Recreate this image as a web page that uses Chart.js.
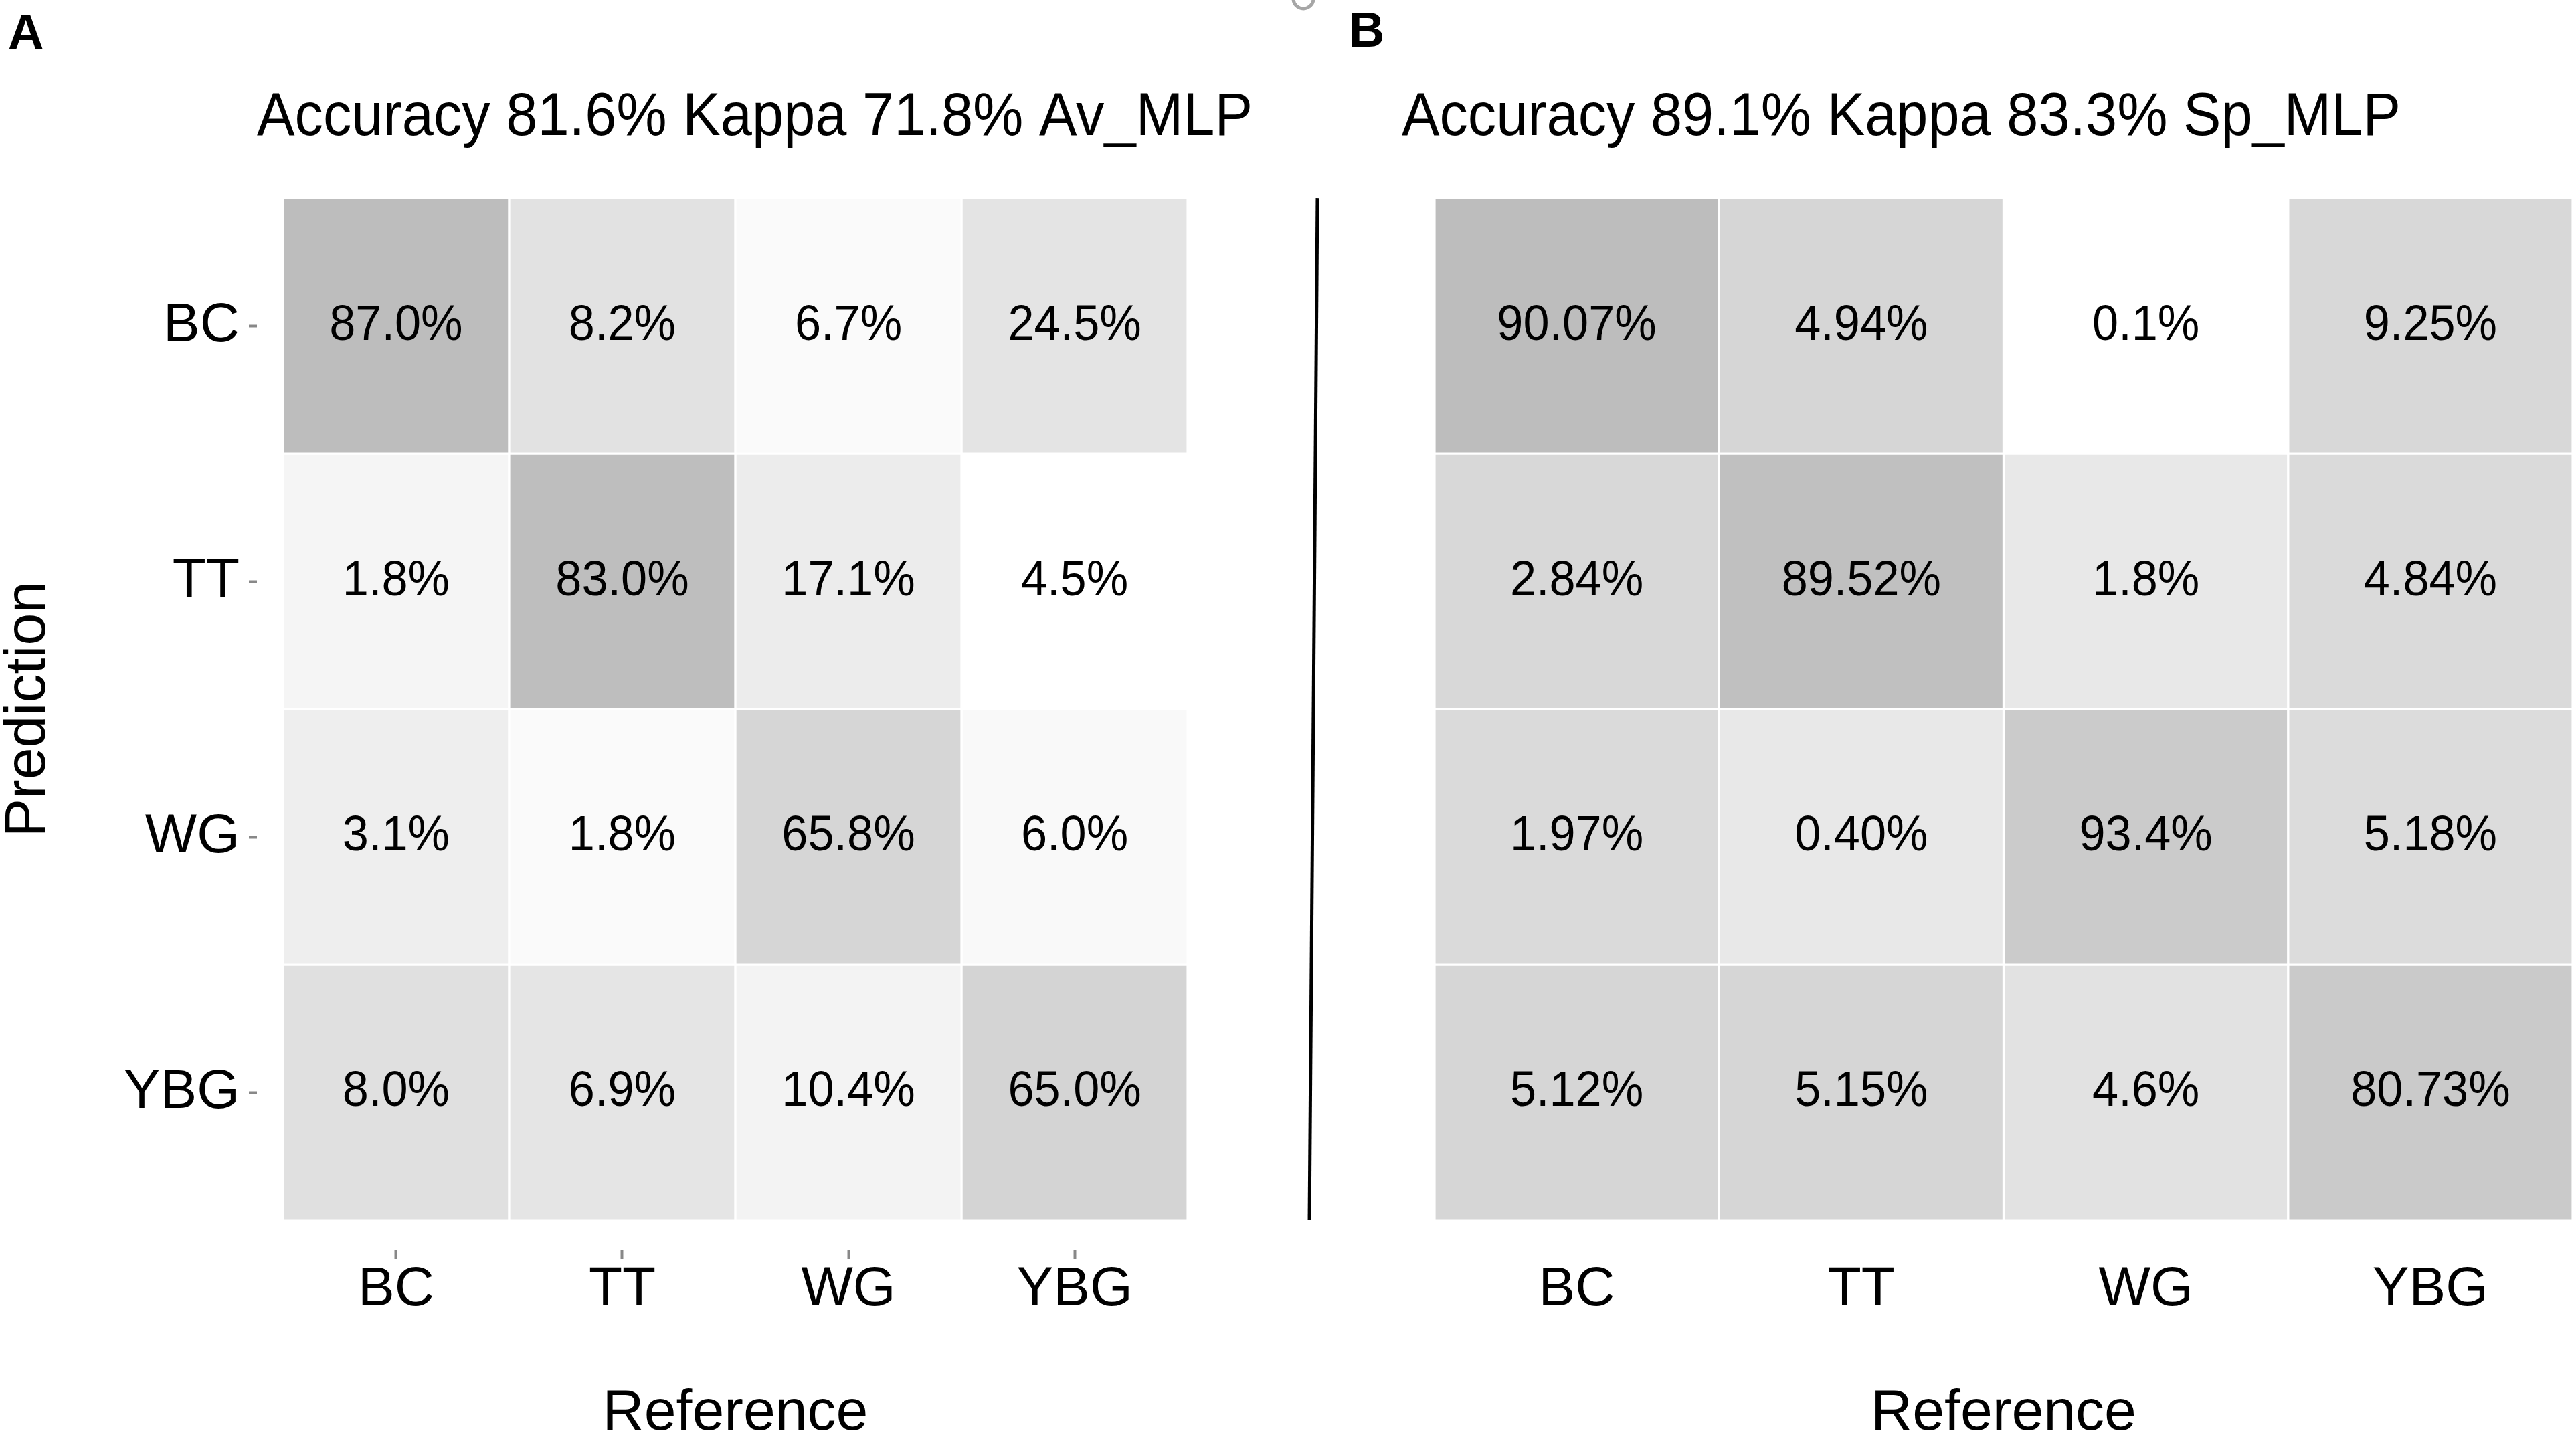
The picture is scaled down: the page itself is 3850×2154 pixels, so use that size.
<!DOCTYPE html>
<html>
<head>
<meta charset="utf-8">
<script src="https://cdn.jsdelivr.net/npm/chart.js@4.4.1/dist/chart.umd.min.js"></script>
<style>
html, body { margin: 0; padding: 0; background: #fff; overflow: hidden; }
#page { position: relative; width: 3850px; height: 2154px; overflow: hidden; background: #fff; }
canvas { position: absolute; top: 0; }
.tag { position: absolute; font-family: 'Liberation Sans', Arial, sans-serif; font-weight: bold; font-size: 74px; line-height: 1; color: #000; }
</style>
</head>
<body>
<div id="page">
  <canvas id="chartA" width="1900" height="2154" style="left:0px;width:1900px;height:2154px"></canvas>
  <canvas id="chartB" width="1994" height="2154" style="left:1900px;width:1994px;height:2154px"></canvas>
  <div class="tag" style="left:12px;top:11px">A</div>
  <div class="tag" style="left:2016px;top:8px">B</div>
</div>
<script>
// ---- data ----
const references = ['BC', 'TT', 'WG', 'YBG'];   // x categories (Reference)
const predictions = ['BC', 'TT', 'WG', 'YBG'];  // y categories (Prediction)

// rows = prediction, columns = reference
const avMlpPercent = [
  [87.0, 8.2, 6.7, 24.5],
  [1.8, 83.0, 17.1, 4.5],
  [3.1, 1.8, 65.8, 6.0],
  [8.0, 6.9, 10.4, 65.0]
];
const avMlpDecimals = [1, 1, 1, 1];

const spMlpPercent = [
  [90.07, 4.94, 0.1, 9.25],
  [2.84, 89.52, 1.8, 4.84],
  [1.97, 0.40, 93.4, 5.18],
  [5.12, 5.15, 4.6, 80.73]
];
const spMlpDecimals = [2, 2, 1, 2];

const avMlpTitle = 'Accuracy 81.6% Kappa 71.8% Av_MLP';
const spMlpTitle = 'Accuracy 89.1% Kappa 83.3% Sp_MLP';
const xAxisTitle = 'Reference';
const yAxisTitle = 'Prediction';

// tile fill shades
const avMlpShade = [
  ['#bdbdbd', '#e2e2e2', '#fafafa', '#e4e4e4'],
  ['#f5f5f5', '#bebebe', '#ececec', '#ffffff'],
  ['#eeeeee', '#fafafa', '#d6d6d6', '#f9f9f9'],
  ['#e0e0e0', '#e5e5e5', '#f3f3f3', '#d4d4d4']
];
const spMlpShade = [
  ['#bdbdbd', '#d6d6d6', '#ffffff', '#d8d8d8'],
  ['#d8d8d8', '#c0c0c0', '#e8e8e8', '#dadada'],
  ['#dadada', '#e8e8e8', '#cbcbcb', '#dcdcdc'],
  ['#d6d6d6', '#d6d6d6', '#e2e2e2', '#cacaca']
];

// ---- chart ----
const FONT = "'Liberation Sans', Arial, sans-serif";

function buildCells(pct, shade, decimals) {
  const data = [], colors = [], labels = [];
  pct.forEach((row, r) => row.forEach((v, c) => {
    data.push({ x: c, y: [r - 0.5, r + 0.5] });
    colors.push(shade[r][c]);
    labels.push(v.toFixed(decimals[c]) + '%');
  }));
  return { data, colors, labels };
}

const cellLabels = {
  id: 'cellLabels',
  afterDatasetsDraw(chart, args, opts) {
    const ctx = chart.ctx;
    const meta = chart.getDatasetMeta(0);
    ctx.save();
    ctx.font = '74px ' + FONT;
    ctx.fillStyle = '#000';
    ctx.textAlign = 'center';
    ctx.textBaseline = 'middle';
    meta.data.forEach((el, i) => {
      const p = el.getProps(['x', 'y', 'base'], true);
      const txt = opts.labels[i];
      ctx.fillText(txt, p.x, (p.y + p.base) / 2, ctx.measureText(txt).width * 0.95);
    });
    ctx.restore();
  }
};

// title text is set in a slightly condensed face in the figure: give the title box a fixed width
const titleWidth = {
  id: 'titleWidth',
  afterLayout(chart, args, opts) {
    const t = chart.titleBlock;
    if (t && opts.width) {
      t.right = t.left + opts.width;
      t.width = opts.width;
    }
  }
};

const separator = {
  id: 'separator',
  afterDraw(chart) {
    const { ctx, chartArea, scales } = chart;
    const top = scales.y.getPixelForValue(-0.5);
    const bottom = scales.y.getPixelForValue(3.5);
    ctx.save();
    ctx.strokeStyle = '#000';
    ctx.lineWidth = 5;
    ctx.beginPath();
    ctx.moveTo(chartArea.left - 126, top);
    ctx.lineTo(chartArea.left - 138, bottom);
    ctx.stroke();
    ctx.strokeStyle = '#a6a6a6';
    ctx.lineWidth = 5;
    ctx.beginPath();
    ctx.arc(chartArea.left - 147, -2, 15, 0, Math.PI);
    ctx.stroke();
    ctx.restore();
  }
};

function makeChart(id, pct, shade, decimals, title, titleW, withYAxis) {
  const cells = buildCells(pct, shade, decimals);
  return new Chart(document.getElementById(id), {
    type: 'bar',
    data: {
      datasets: [{
        data: cells.data,
        backgroundColor: cells.colors,
        borderColor: '#ffffff',
        borderWidth: 2,
        borderSkipped: false,
        categoryPercentage: 1,
        barPercentage: 1
      }]
    },
    options: {
      responsive: false,
      animation: false,
      devicePixelRatio: 1,
      layout: { padding: withYAxis ? { left: 0, right: 86, top: 0, bottom: 0 } : { left: 195, right: 0, top: 0, bottom: 0 } },
      plugins: {
        legend: { display: false },
        tooltip: { enabled: false },
        title: {
          display: true, text: title, align: 'start', fullSize: false, color: '#000',
          font: { family: FONT, size: 91, weight: 'normal', lineHeight: 1.2 },
          padding: { top: 122, bottom: 21 }
        },
        titleWidth: { width: titleW },
        cellLabels: { labels: cells.labels }
      },
      scales: {
        x: {
          type: 'linear', position: 'bottom', min: -0.615, max: 3.615, offset: false,
          afterBuildTicks: s => { s.ticks = references.map((_, i) => ({ value: i })); },
          afterFit: s => { s.height = 286; },
          ticks: {
            callback: v => references[v], color: '#000', autoSkip: false, maxRotation: 0,
            font: { family: FONT, size: 82, lineHeight: 1 }, padding: withYAxis ? 5 : 19
          },
          grid: { display: true, offset: false, drawOnChartArea: false, drawTicks: withYAxis, tickLength: 14, tickWidth: 4, tickColor: '#888' },
          border: { display: false },
          title: { display: true, text: xAxisTitle, color: '#000', font: { family: FONT, size: 86, lineHeight: 0.95 }, padding: 0 }
        },
        y: {
          type: 'linear', reverse: true, min: -0.615, max: 3.615, offset: false, display: withYAxis,
          afterBuildTicks: s => { s.ticks = predictions.map((_, i) => ({ value: i })); },
          afterFit: s => { if (withYAxis) { s.width = 384; } },
          ticks: {
            callback: v => predictions[v], color: '#000', autoSkip: false,
            font: { family: FONT, size: 82, lineHeight: 1 }, padding: 14
          },
          grid: { display: true, offset: false, drawOnChartArea: false, tickLength: 12, tickWidth: 4, tickColor: '#888' },
          border: { display: false },
          title: { display: true, text: yAxisTitle, color: '#000', font: { family: FONT, size: 86, lineHeight: 1 }, padding: 0 }
        }
      }
    },
    plugins: withYAxis ? [cellLabels, titleWidth] : [cellLabels, titleWidth, separator]
  });
}

makeChart('chartA', avMlpPercent, avMlpShade, avMlpDecimals, avMlpTitle, 1488, true);
makeChart('chartB', spMlpPercent, spMlpShade, spMlpDecimals, spMlpTitle, 1493, false);
</script>
</body>
</html>
